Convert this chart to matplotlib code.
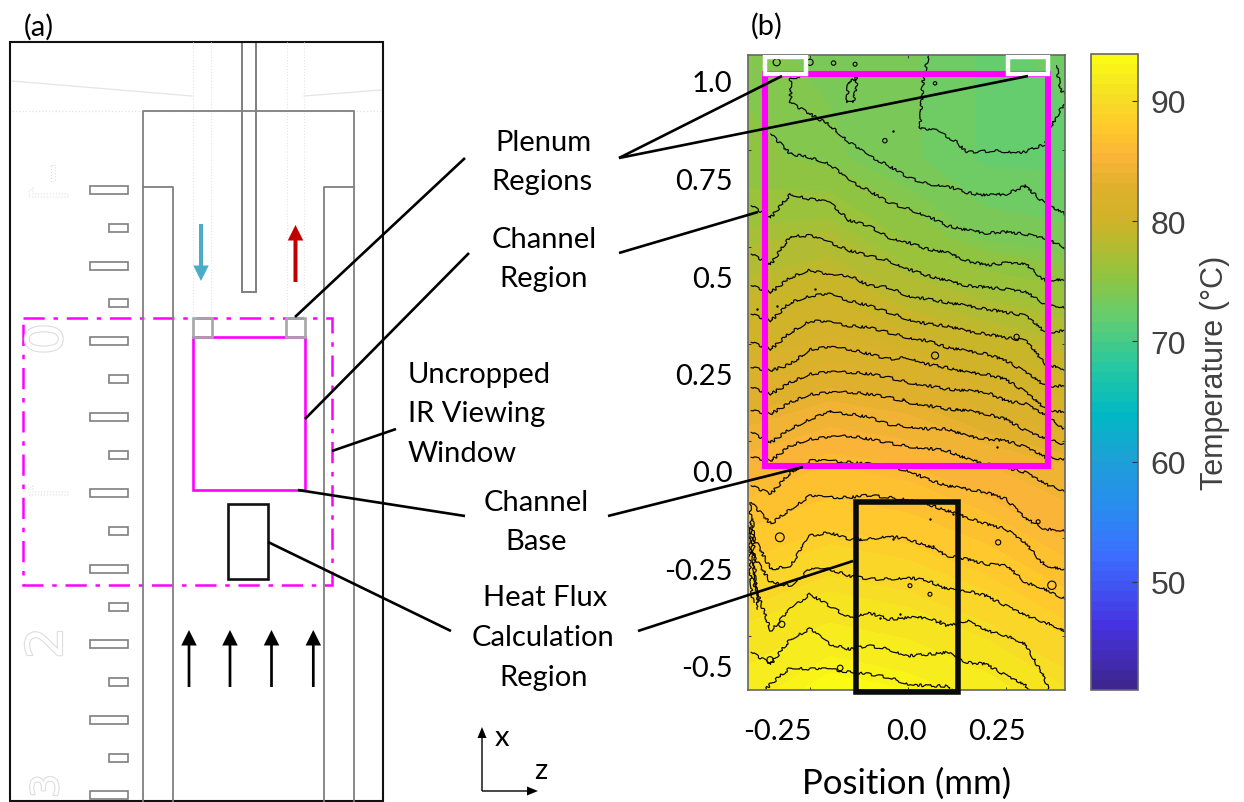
import numpy as np
import matplotlib
matplotlib.use("Agg")
import matplotlib.pyplot as plt
from matplotlib.colors import LinearSegmentedColormap, Normalize
from matplotlib.cm import ScalarMappable
from matplotlib.patches import Rectangle
import matplotlib.patheffects as pe

W, H = 1244, 803
TXT = "Lato"
TXT_SIZE = 21

# temperature field (rows = x, cols = z)
grid_z = [-0.41, -0.2, 0.0, 0.2, 0.41]
grid_x = [1.07, 0.8, 0.6, 0.4, 0.2, 0.0, -0.2, -0.4, -0.57]
temps = [
    [74.5, 74.0, 73.5, 72.0, 72.5],
    [75.0, 74.5, 73.5, 72.0, 72.0],
    [77.0, 77.5, 75.5, 74.0, 73.5],
    [79.5, 80.5, 79.0, 78.0, 77.0],
    [82.5, 83.5, 83.0, 81.5, 80.5],
    [85.5, 86.5, 86.0, 85.0, 84.0],
    [88.0, 89.0, 88.5, 87.5, 86.0],
    [90.5, 91.5, 91.0, 90.0, 88.5],
    [92.0, 93.5, 93.0, 92.0, 90.5],
]

# isotherms, x position (mm) at each z station
stations = [-0.4, -0.35, -0.3, -0.25, -0.2, -0.15, -0.1, -0.05, 0.0,
            0.05, 0.1, 0.15, 0.2, 0.25, 0.3, 0.35, 0.4]
nan = float("nan")
iso_a = [nan, nan, .945, .915, .887, .843, .808, .783, .753, .736, .731, .714, .707, .710, .731, .684, .659]
iso_b = [nan, .864, .813, .804, .787, .744, .719, .689, .672, .654, .629, .618, .610, .613, .607, .595, .573]
iso_c = [.680, .650, .710, .697, .689, .642, .629, .599, .586, .569, .560, .539, .528, .533, .530, .488, .492]
iso_d = [.556, .530, .603, .603, .586, .565, .552, .539, .518, .501, .488, .475, .471, .466, .458, .428, .419]
iso_e = [.475, .458, .496, .516, .501, .501, .475, .471, .449, .441, .432, .424, .415, .407, .398, .355, .360]
iso_f = [.402, .385, .432, .449, .453, .436, .424, .407, .389, .377, .372, .359, .351, .342, .334, .274, .261]
iso_g = [.330, .312, .355, .385, .381, .372, .368, .355, .342, .334, .317, .308, .300, .283, .253, .218, .218]
iso_h = [.265, .257, .274, .312, .317, .312, .300, .287, .291, .274, .265, .253, .248, .235, .202, .159, .150]
iso_i = [.214, .197, .227, .249, .253, .253, .249, .240, .227, .219, .210, .206, .202, .180, .172, .142, .108]
iso_j = [.155, .146, .176, .197, .200, .202, .197, .189, .176, .168, .159, .155, .146, .133, .103, .082, .069]
iso_k = [.099, .073, .108, .133, .150, .146, .138, .120, .114, .108, .108, .090, .082, .078, .061, .035, .031]
iso_l = [.035, .026, .065, .082, .086, .090, .082, .072, .063, .058, .052, .031, .018, .009, -.004, -.034, -.051]
iso_m = [-.038, -.059, -.004, .026, .026, .022, .018, .012, .001, -.021, -.038, -.046, -.055, -.072, -.123, -.149, -.153]
iso_n = [-.081, -.136, -.098, -.064, -.068, -.068, -.062, -.068, -.072, -.085, -.102, -.119, -.136, -.149, -.187, -.243, -.252]
iso_o = [-.158, -.252, -.243, -.166, -.158, -.175, -.175, -.166, -.175, -.192, -.217, -.226, -.239, -.243, -.286, -.303, -.328]
iso_p = [-.209, -.286, -.294, -.252, -.252, -.269, -.277, -.277, -.273, -.281, -.303, -.307, -.320, -.346, -.371, -.388, -.410]
iso_q = [-.269, -.410, -.354, -.316, -.346, -.376, -.363, -.380, -.376, -.376, -.397, -.384, -.410, -.422, -.444, -.534, -.700]
iso_r = [-.465, -.495, -.431, -.405, -.444, -.457, -.448, -.457, -.474, -.470, -.465, -.491, -.495, -.525, -.551, -.620, nan]
iso_s = [-.600, -.546, -.504, -.508, -.508, -.516, -.521, -.529, -.546, -.551, -.551, -.600, nan, nan, nan, nan, nan]
isotherms = [iso_a, iso_b, iso_c, iso_d, iso_e, iso_f, iso_g, iso_h, iso_i, iso_j,
             iso_k, iso_l, iso_m, iso_n, iso_o, iso_p, iso_q, iso_r, iso_s]

# isotherms that double back, so they keep their own z
top_z = [.052, .039, .035, .031, .073, .124, .150, .218, .294, .349, .375, .400]
top_x = [1.065, 1.005, .954, .877, .873, .843, .817, .821, .817, .838, .902, .945]
start_z = [-.278, -.300, -.300]
start_x = [1.009, 1.009, .945]
edge1_z = [-.403, -.399, -.390, -.382]
edge1_x = [-.081, -.183, -.286, -.354]
edge2_z = [-.396, -.393, -.384]
edge2_x = [-.123, -.217, -.337]
edge3_z = [-.407, -.403, -.396]
edge3_x = [-.140, -.252, -.337]
right_z = [.379, .388, .400]
right_x = [1.039, .979, .966]
island_z = [-.156, -.152, -.129, -.139, -.156]
island_x = [.945, .996, 1.009, .945, .945]

loop_z = [-.059, .069, .069, .277, .367, .332, -.327, -.352, .230, .005, .056, -.322, -.173,
          -.335, -.25, -.19, -.135]
loop_x = [.847, .296, .994, .344, -.293, -.130, -.170, -.484, -.183, -.294, -.316, -.393, -.505,
          1.048, 1.048, 1.046, 1.043]
loop_s = [10, 26, 6, 14, 36, 8, 40, 20, 14, 8, 8, 20, 16, 26, 20, 10, 8]
dot_z = [-.037, -.237, -.386, -.335, -.199, -.012, .124, .226, -.122, -.037, .065, .056, .116, -.071, -.020, .082]
dot_x = [.872, .466, .415, .424, .155, .185, .159, .061, -.175, -.175, -.192, -.123, -.110, -.376, -.367, -.384]

# overlay regions on the IR map (mm)
channel_z = [-0.365, 0.357]
channel_x = [0.013, 1.019]
plenum_left_z = [-0.365, -0.260]
plenum_right_z = [0.255, 0.357]
plenum_x = [1.019, 1.062]
flux_z = [-0.133, 0.127]
flux_x = [-0.567, -0.079]

ytick_marks = [-0.423, -0.173, 0.077, 0.326, 0.574, 0.823]
xtick_marks = [-0.25, 0.0, 0.25]
ylabel_pos = [1.0, 0.75, 0.5, 0.25, 0.0, -0.25, -0.5]
ylabel_txt = ["1.0", "0.75", "0.5", "0.25", "0.0", "-0.25", "-0.5"]
xlabel_pos = [-0.334, -0.005, 0.227]
xlabel_txt = ["-0.25", "0.0", "0.25"]

cbar_ticks = [50, 60, 70, 80, 90]
t_min, t_max = 41.0, 93.9

cmap_values = [41, 46, 52, 56, 60, 64, 68, 72, 76, 80, 83, 85.5, 88, 91, 93.9]
cmap_colors = ["#3e2690", "#4632e1", "#3c6eff", "#288cf0", "#1ea0d7", "#00b9c3", "#28c8a0",
               "#64cd6e", "#96c33c", "#cdb428", "#dfb02c", "#fab437", "#ffc82d", "#f5e123", "#fafa14"]

# schematic of panel (a), figure pixels
slot_y = [191, 229, 266.5, 304, 342, 380, 417.7, 456, 494, 532, 569.5, 607.5, 645, 683, 720.5, 758.5, 796]
flow_arrow_x = [189, 230, 271.5, 313.3]
faint_x = [192.5, 210.5, 286.5, 304]

callouts = [
    [(295, 318), (465, 159)],
    [(305, 420), (469, 254)],
    [(332, 452), (396, 430)],
    [(298, 491), (465, 517)],
    [(268, 543), (451, 632)],
    [(619, 159), (782, 77)],
    [(619, 159), (1028, 77)],
    [(619, 254), (758, 213)],
    [(608, 517), (803, 468)],
    [(638, 632), (853, 562)],
]
labels = [
    ("Plenum", 543, 143), ("Regions", 542, 182),
    ("Channel", 544, 240), ("Region", 544, 279),
    ("Channel", 536, 503), ("Base", 536, 542),
    ("Heat Flux", 545, 598), ("Calculation", 543, 638), ("Region", 544, 678),
]
window_lines = [("Uncropped", 375), ("IR Viewing", 414), ("Window", 454)]


def px_axes(left, top, right, bottom):
    return [left / W, 1 - bottom / H, (right - left) / W, (bottom - top) / H]


fig = plt.figure(figsize=(W / 100, H / 100), dpi=100)

# IR map
ax = fig.add_axes(px_axes(748, 56, 1065, 691))
norm = Normalize(t_min, t_max)
pts = [(v - t_min) / (t_max - t_min) for v in cmap_values]
parula = LinearSegmentedColormap.from_list("irmap", list(zip(pts, cmap_colors)), N=64)
ax.contourf(grid_z, grid_x, np.array(temps), levels=np.linspace(t_min, t_max, 106),
            cmap=parula, norm=norm, antialiased=False)

iso_lines = [ax.plot(stations, iso, color="black", lw=0.85)[0] for iso in isotherms]
for zz, xx in [(top_z, top_x), (start_z, start_x), (edge1_z, edge1_x), (edge2_z, edge2_x),
               (edge3_z, edge3_x), (right_z, right_x), (island_z, island_x)]:
    iso_lines.append(ax.plot(zz, xx, color="black", lw=0.85)[0])
for l in iso_lines:
    l.set_sketch_params(scale=1.3, length=14, randomness=30)
ax.scatter(loop_z, loop_x, s=loop_s, facecolors="none", edgecolors="black", linewidths=0.8, zorder=3)
ax.scatter(dot_z, dot_x, s=3, color="black", linewidths=0, zorder=3)

ax.add_patch(Rectangle((channel_z[0], channel_x[0]), channel_z[1] - channel_z[0], channel_x[1] - channel_x[0],
                       fill=False, ec="#ff00ff", lw=4.4, zorder=4))
for pz in (plenum_left_z, plenum_right_z):
    ax.add_patch(Rectangle((pz[0], plenum_x[0]), pz[1] - pz[0], plenum_x[1] - plenum_x[0],
                           fill=False, ec="white", lw=3.2, zorder=5))
ax.add_patch(Rectangle((flux_z[0], flux_x[0]), flux_z[1] - flux_z[0], flux_x[1] - flux_x[0],
                       fill=False, ec="#0a0a0a", lw=4.0, zorder=6, clip_on=False))

ax.set_xlim((748 - 908) / 392, (1065 - 908) / 392)
ax.set_ylim((472 - 691) / 390, (472 - 56) / 390)
ax.set_xticks(xtick_marks)
ax.set_yticks(ytick_marks)
ax.tick_params(which="major", direction="in", length=2.5, width=0.7, color="#333333",
               labelbottom=False, labelleft=False, top=True, right=True)
ax.set_xticks(xlabel_pos, labels=xlabel_txt, minor=True, family=TXT, fontsize=TXT_SIZE)
ax.set_yticks(ylabel_pos, labels=ylabel_txt, minor=True, family=TXT, fontsize=TXT_SIZE)
ax.tick_params(axis="x", which="minor", length=0, pad=20)
ax.tick_params(axis="y", which="minor", length=0, pad=11)
ax.set_xlabel("Position (mm)", family=TXT, fontsize=25)
ax.xaxis.set_label_coords(0.5, -0.12)
for sp in ax.spines.values():
    sp.set_color("#666666")
    sp.set_linewidth(1.2)

# colour bar
cax = fig.add_axes(px_axes(1091, 55, 1138, 691))
cb = fig.colorbar(ScalarMappable(norm=norm, cmap=parula), cax=cax)
cb.set_ticks(cbar_ticks)
cax.tick_params(direction="in", length=4, width=0.8, color="#333333", pad=9, labelsize=23,
                labelcolor="#404040")
for t in cax.get_yticklabels():
    t.set_family("Liberation Sans")
cb.set_label("Temperature (°C)", family="Liberation Sans", fontsize=22, color="#404040", labelpad=10)
cb.outline.set_edgecolor("#666666")
cb.outline.set_linewidth(1.2)

# overlay in figure pixels for the schematic and callouts
ov = fig.add_axes([0, 0, 1, 1], zorder=10)
ov.set_xlim(0, W)
ov.set_ylim(H, 0)
ov.axis("off")
ov.patch.set_alpha(0)

faint = "#e4e4e4"
for fx in faint_x:
    ov.plot([fx, fx], [43, 318], color=faint, lw=0.8, ls=":")
ov.plot([12, 381], [112, 112], color=faint, lw=0.9, ls=":")
ov.plot([12, 192], [82, 97], color=faint, lw=0.9)
ov.plot([304, 381], [97, 91], color=faint, lw=0.9)

wall = "#7f7f7f"
ov.plot([143, 143, 354, 354], [802, 112, 112, 802], color=wall, lw=1.3)
ov.plot([143, 173, 173], [187.5, 187.5, 802], color=wall, lw=1.3)
ov.plot([354, 324, 324], [187.5, 187.5, 802], color=wall, lw=1.3)
ov.add_patch(Rectangle((241.7, 43), 14.3, 250, fc="white", ec=wall, lw=1.4))

for i, y in enumerate(slot_y):
    x0 = 90 if i % 2 == 0 else 109
    ov.add_patch(Rectangle((x0, y - 4), 128 - x0, 8, fill=False, ec=wall, lw=1.2))

# stamped numbers, outline only
for s, y, fs in [("0", 340, 36), ("2", 644, 36), ("3", 787, 27)]:
    ov.text(48, y, s, rotation=90, ha="center", va="center", fontsize=fs, color="white", family="DejaVu Sans",
            path_effects=[pe.withStroke(linewidth=1.6, foreground="#dddddd")])
for y0 in (198, 496):
    ov.plot([29, 68, 68, 33, 33, 29, 29], [y0, y0, y0 - 3, y0 - 3, y0 - 9, y0 - 6, y0], color="#dddddd", lw=0.8, ls=":")
ov.add_patch(Rectangle((51, 166), 4, 16, fill=False, ec="#dddddd", lw=0.8, ls=":"))

# IR window, channel, plenums, heat flux box
ov.add_patch(Rectangle((22.5, 318.5), 309, 267.5, fill=False, ec="#ff00ff", lw=1.8,
                       ls=(0, (8.5, 3.5, 1.8, 3.5))))
ov.add_patch(Rectangle((193, 338), 111.5, 153, fill=False, ec="#ff00ff", lw=1.9))
ov.add_patch(Rectangle((193, 318.5), 19, 19.5, fill=False, ec="#a6a6a6", lw=1.9))
ov.add_patch(Rectangle((286, 318.5), 19, 19.5, fill=False, ec="#a6a6a6", lw=1.9))
ov.add_patch(Rectangle((228, 505), 40, 75, fill=False, ec="#111111", lw=1.9))

# frame of panel (a)
ov.add_patch(Rectangle((10, 42.5), 373, 759.5, fill=False, ec="#111111", lw=1.5))

# flow arrows
ov.arrow(201, 225, 0, 57, width=4, head_width=15.5, head_length=15.5, length_includes_head=True, color="#4bacc6", lw=0)
ov.arrow(295.5, 283, 0, -57, width=4, head_width=15.5, head_length=15.5, length_includes_head=True, color="#c00000", lw=0)
for ax_x in flow_arrow_x:
    ov.arrow(ax_x, 688, 0, -57, width=2.7, head_width=15.5, head_length=15.5, length_includes_head=True, color="black", lw=0)

# x / z triad
ov.arrow(482, 792, 0, -64, width=1.4, head_width=9, head_length=11, length_includes_head=True, color="black", lw=0)
ov.arrow(482, 792, 56, 0, width=1.4, head_width=9, head_length=11, length_includes_head=True, color="black", lw=0)

for (a, b) in callouts:
    ov.plot([a[0], b[0]], [a[1], b[1]], color="black", lw=1.9, solid_capstyle="butt", zorder=8)

for s, x, y in labels:
    ov.text(x, y, s, ha="center", va="center", family=TXT, fontsize=TXT_SIZE)
for s, y in window_lines:
    ov.text(408, y, s, ha="left", va="center", family=TXT, fontsize=TXT_SIZE)
ov.text(39, 27, "(a)", ha="center", va="center", family=TXT, fontsize=TXT_SIZE)
ov.text(767, 26, "(b)", ha="center", va="center", family=TXT, fontsize=TXT_SIZE)
ov.text(502, 738, "x", ha="center", va="center", family=TXT, fontsize=TXT_SIZE)
ov.text(541, 771, "z", ha="center", va="center", family=TXT, fontsize=TXT_SIZE)

fig.savefig("out.png", dpi=100, facecolor="white")
